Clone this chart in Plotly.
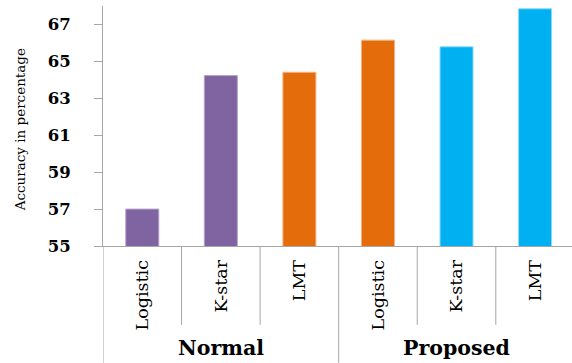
import plotly.graph_objects as go

# Accuracy of each classifier, normal vs. proposed setup
groups = ["Normal", "Proposed"]
methods = ["Logistic", "K-star", "LMT", "Logistic", "K-star", "LMT"]
accuracy = [57.0, 64.23, 64.41, 66.15, 65.79, 67.85]
bar_colors = ["#8064A2", "#8064A2", "#E46C0A", "#E46C0A", "#00B0F0", "#00B0F0"]
edge_colors = ["#B3A2C7", "#B3A2C7", "#F6B282", "#F6B282", "#8ED8F8", "#8ED8F8"]
y_ticks = [55, 57, 59, 61, 63, 65, 67]

positions = list(range(len(methods)))
grid_color = "#A6A6A6"
serif = "DejaVu Serif"

fig = go.Figure(
    go.Bar(
        x=positions,
        y=accuracy,
        width=0.42,
        marker=dict(color=bar_colors, line=dict(color=edge_colors, width=1)),
    )
)

fig.update_layout(
    width=572,
    height=363,
    margin=dict(l=103, r=0, t=6, b=117),
    plot_bgcolor="white",
    paper_bgcolor="white",
    showlegend=False,
    font=dict(family=serif),
)

fig.update_xaxes(
    range=[-0.5, 5.47],
    tickvals=positions,
    ticktext=methods,
    tickangle=-90,
    ticks="",
    ticklabelstandoff=6,
    tickfont=dict(family=serif, size=17.5, color="black"),
    showline=True,
    linecolor=grid_color,
    linewidth=1,
    showgrid=False,
    zeroline=False,
)

fig.update_yaxes(
    range=[55, 68],
    tickvals=y_ticks,
    ticks="outside",
    ticklen=8,
    tickcolor=grid_color,
    ticklabelstandoff=20,
    tickfont=dict(family=serif, size=16.5, color="black", weight="bold"),
    showline=True,
    linecolor=grid_color,
    linewidth=1,
    showgrid=False,
    zeroline=False,
)

# Table-style dividers below the category axis
inner_bottom = -79 / 240.5
outer_bottom = -117 / 240.5
for i, _ in enumerate(methods[:-1]):
    boundary = i + 0.5
    is_group_edge = (i + 1) % 3 == 0
    fig.add_shape(
        type="line", xref="x", yref="paper",
        x0=boundary, x1=boundary, y0=0,
        y1=outer_bottom if is_group_edge else inner_bottom,
        line=dict(color=grid_color, width=1),
    )
fig.add_shape(
    type="line", xref="x", yref="paper",
    x0=-0.5, x1=-0.5, y0=0, y1=outer_bottom,
    line=dict(color=grid_color, width=1),
)

# Group labels
for g, name in enumerate(groups):
    fig.add_annotation(
        x=g * 3 + 1, xref="x", y=0, yref="paper", yshift=-102,
        text=f"<b>{name}</b>", showarrow=False,
        xanchor="center", yanchor="middle",
        font=dict(family=serif, size=20.5, color="black"),
    )

# Y-axis title
fig.add_annotation(
    x=0, xref="paper", xshift=-83, y=0.482, yref="paper",
    text="Accuracy in percentage", textangle=-90, showarrow=False,
    xanchor="center", yanchor="middle",
    font=dict(family=serif, size=13.5, color="black"),
)

fig.write_html("out.html")
